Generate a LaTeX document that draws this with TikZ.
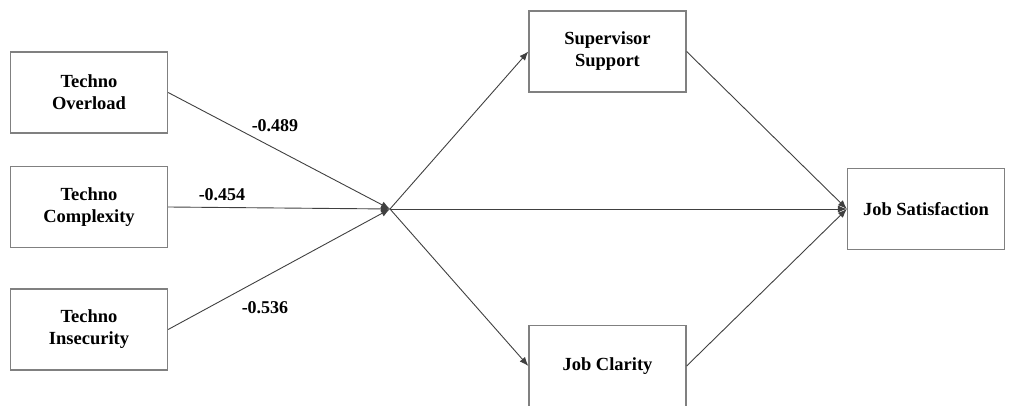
\documentclass[tikz,border=0pt]{standalone}
\usepackage{fontspec}
\setmainfont{Liberation Serif}
\usetikzlibrary{positioning,calc,arrows.meta}

\begin{document}
\begin{tikzpicture}[x=1pt,y=-1pt,
	box/.style={draw=black!50,line width=1.3pt,fill=white,minimum width=157pt,minimum height=81pt,align=center,font=\fontsize{18.5}{22}\selectfont\bfseries},
	path/.style={draw=black!75,line width=0.9pt,-{Latex[length=9pt,width=7pt]}},
	val/.style={font=\fontsize{18}{20}\selectfont\bfseries}]
\useasboundingbox (0,0) rectangle (1010,406);

\node[box](over) at (89,92.5) {Techno\\Overload};
\node[box](comp) at (89,207) {Techno\\Complexity};
\node[box](insec) at (89,329.5) {Techno\\Insecurity};
\node[box](sup) at (607.5,51.5) {Supervisor\\Support};
\node[box](clar) at (607.5,366) {Job Clarity};
\node[box](sat) at (926,209) {Job Satisfaction};

\coordinate(hub) at (390,209);

% inputs into the hub
\foreach \x in {over,comp,insec}{
	\draw[path](\x.east)--(hub);
}
\draw[path](hub)--(sup.west);
\draw[path](hub)--(clar.west);
\draw[path](hub)--(sat.west);
\draw[path](sup.east)--(sat.west);
\draw[path](clar.east)--(sat.west);

\foreach \x/\y/\v in {275/126/-0.489,222/195/-0.454,265/308/-0.536}
	\node[val] at (\x,\y) {\v};

\end{tikzpicture}
\end{document}
